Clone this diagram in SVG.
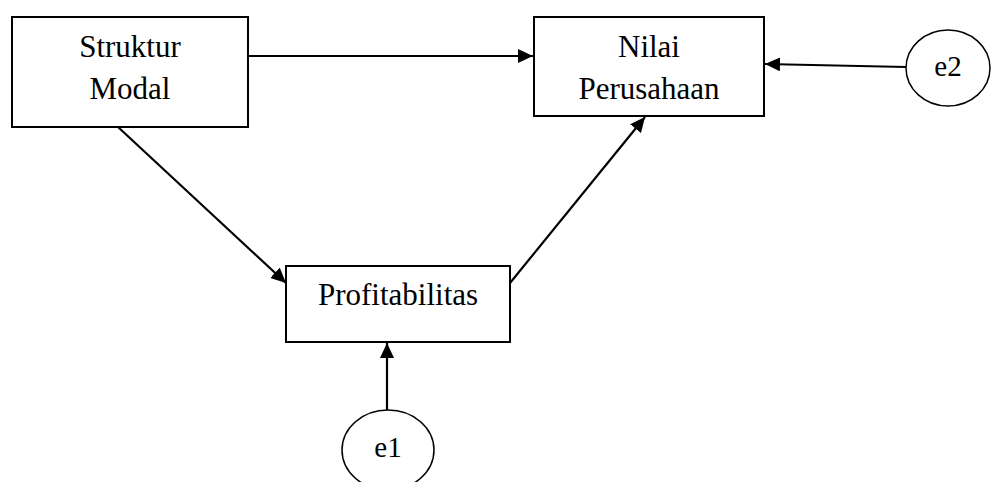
<svg xmlns="http://www.w3.org/2000/svg" width="992" height="482" viewBox="0 0 992 482">
<style>
.box{fill:#fff;stroke:#000;stroke-width:2}
.ell{fill:#fff;stroke:#000;stroke-width:1.5}
.t{font-family:"Liberation Serif","Times New Roman",serif;font-size:31px;fill:#000;text-anchor:middle}
.c{stroke:#000;stroke-width:2.2;fill:none;marker-end:url(#ah)}
</style>
<defs>
<marker id="ah" viewBox="0 0 15 14" refX="15" refY="7" markerWidth="15" markerHeight="14" markerUnits="userSpaceOnUse" orient="auto">
<path d="M0,0 L15,7 L0,14 Z" fill="#000"/>
</marker>
</defs>
<rect width="992" height="482" fill="#fff"/>
<g id="connectors">
<line class="c" x1="248" y1="56" x2="533" y2="56"/>
<line class="c" x1="906" y1="67" x2="765" y2="64"/>
<line class="c" x1="118" y1="127" x2="286" y2="283"/>
<line class="c" x1="510" y1="283" x2="645" y2="117"/>
<line class="c" x1="387" y1="410" x2="387" y2="343"/>
</g>
<g id="struktur-modal">
<rect class="box" x="12" y="17" width="236" height="110"/>
<text class="t" x="130" y="57">Struktur</text>
<text class="t" x="130" y="99">Modal</text>
</g>
<g id="nilai-perusahaan">
<rect class="box" x="534" y="17" width="230" height="99"/>
<text class="t" x="649" y="57">Nilai</text>
<text class="t" x="649" y="99">Perusahaan</text>
</g>
<g id="profitabilitas">
<rect class="box" x="286" y="266" width="224" height="76"/>
<text class="t" x="398" y="305">Profitabilitas</text>
</g>
<g id="e1">
<ellipse class="ell" cx="388" cy="450" rx="46" ry="40"/>
<text class="t" x="388" y="457" style="font-size:29px">e1</text>
</g>
<g id="e2">
<ellipse class="ell" cx="948" cy="68" rx="42" ry="38"/>
<text class="t" x="948" y="76" style="font-size:29px">e2</text>
</g>
</svg>
